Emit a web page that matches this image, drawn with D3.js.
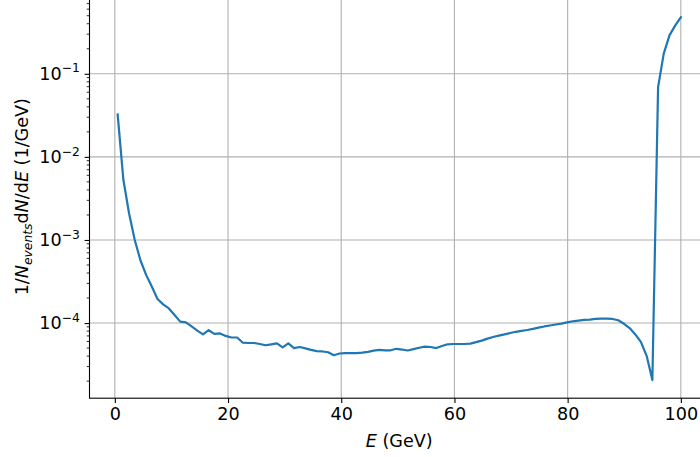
<!DOCTYPE html>
<html>
<head>
<meta charset="utf-8">
<script src="https://cdn.jsdelivr.net/npm/d3@7"></script>
<style>
  body { margin: 0; background: #fff; }
  text { font-family: "DejaVu Sans", sans-serif; }
</style>
</head>
<body>
<div id="chart"></div>
<script>
// bin centres (GeV)
const energy = [
  0.5, 1.51, 2.51, 3.52, 4.52, 5.53, 6.53, 7.54, 8.54, 9.55,
  10.55, 11.56, 12.56, 13.57, 14.57, 15.58, 16.58, 17.59, 18.59, 19.6,
  20.6, 21.61, 22.61, 23.62, 24.62, 25.63, 26.63, 27.64, 28.64, 29.65,
  30.65, 31.66, 32.66, 33.67, 34.67, 35.68, 36.68, 37.69, 38.69, 39.7,
  40.7, 41.71, 42.71, 43.72, 44.72, 45.73, 46.73, 47.74, 48.74, 49.75,
  50.75, 51.76, 52.76, 53.77, 54.77, 55.78, 56.78, 57.79, 58.79, 59.8,
  60.8, 61.81, 62.81, 63.82, 64.82, 65.83, 66.83, 67.84, 68.84, 69.85,
  70.85, 71.86, 72.86, 73.87, 74.87, 75.88, 76.88, 77.89, 78.89, 79.9,
  80.9, 81.91, 82.91, 83.92, 84.92, 85.93, 86.93, 87.94, 88.94, 89.95,
  90.95, 91.96, 92.96, 93.97, 94.97, 95.98, 96.98, 97.99, 98.99, 100.0
];

// 1/N dN/dE (1/GeV)
const density = [
  0.0324, 0.0053, 0.0021, 1.0e-3, 5.7e-4, 3.8e-4, 2.75e-4, 1.95e-4, 1.68e-4, 1.5e-4,
  1.25e-4, 1.04e-4, 1.02e-4, 9.1e-5, 8.1e-5, 7.3e-5, 8.2e-5, 7.4e-5, 7.5e-5, 7.0e-5,
  6.7e-5, 6.7e-5, 5.8e-5, 5.75e-5, 5.75e-5, 5.6e-5, 5.4e-5, 5.55e-5, 5.7e-5, 5.1e-5,
  5.7e-5, 5.0e-5, 5.15e-5, 4.95e-5, 4.75e-5, 4.6e-5, 4.55e-5, 4.45e-5, 4.1e-5, 4.3e-5,
  4.35e-5, 4.35e-5, 4.35e-5, 4.4e-5, 4.5e-5, 4.65e-5, 4.75e-5, 4.7e-5, 4.7e-5, 4.9e-5,
  4.8e-5, 4.67e-5, 4.85e-5, 5.05e-5, 5.2e-5, 5.15e-5, 5.0e-5, 5.3e-5, 5.55e-5, 5.6e-5,
  5.6e-5, 5.6e-5, 5.65e-5, 5.9e-5, 6.15e-5, 6.5e-5, 6.8e-5, 7.05e-5, 7.3e-5, 7.6e-5,
  7.85e-5, 8.05e-5, 8.25e-5, 8.5e-5, 8.8e-5, 9.1e-5, 9.35e-5, 9.6e-5, 9.85e-5, 1.02e-4,
  1.05e-4, 1.07e-4, 1.09e-4, 1.1e-4, 1.12e-4, 1.13e-4, 1.13e-4, 1.12e-4, 1.08e-4, 9.8e-5,
  8.7e-5, 7.3e-5, 5.9e-5, 4.0e-5, 2.06e-5, 0.069, 0.175, 0.29, 0.38, 0.478
];

const xTicks = [0, 20, 40, 60, 80, 100];
const yTicks = [1e-4, 1e-3, 1e-2, 1e-1];

const width = 700, height = 457;
const fontSize = 17.6;
const tickLen = 4.86, tickPad = 4.86, minorLen = 2.78;

// axes box (the figure is cropped on the top and right)
const box = { left: 89.5, right: 709, top: -0.8, bottom: 398.2 };

const data = energy.map((e, i) => ({ e: e, v: density[i] }));

// matplotlib-like 5% margins
const [eMin, eMax] = d3.extent(energy);
const ePad = (eMax - eMin) * 0.05;
const [lMin, lMax] = d3.extent(density).map(Math.log10);
const lPad = (lMax - lMin) * 0.05;

const x = d3.scaleLinear()
    .domain([eMin - ePad, eMax + ePad])
    .range([box.left, box.right]);

const y = d3.scaleLog()
    .domain([Math.pow(10, lMin - lPad), Math.pow(10, lMax + lPad)])
    .range([box.bottom, box.top]);

const svg = d3.select("#chart").append("svg")
    .attr("width", width)
    .attr("height", height);

// Grid
svg.append("g").selectAll("line")
    .data(xTicks)
    .enter().append("line")
    .attr("x1", d => x(d)).attr("x2", d => x(d))
    .attr("y1", box.top).attr("y2", box.bottom)
    .attr("stroke", "#b0b0b0").attr("stroke-width", 1.1);

svg.append("g").selectAll("line")
    .data(yTicks)
    .enter().append("line")
    .attr("x1", box.left).attr("x2", box.right)
    .attr("y1", d => y(d)).attr("y2", d => y(d))
    .attr("stroke", "#b0b0b0").attr("stroke-width", 1.1);

// Curve
const line = d3.line()
    .x(d => x(d.e))
    .y(d => y(d.v));

svg.append("path")
    .datum(data)
    .attr("fill", "none")
    .attr("stroke", "#1f77b4")
    .attr("stroke-width", 2.2)
    .attr("stroke-linejoin", "round")
    .attr("stroke-linecap", "square")
    .attr("d", line);

// Frame
svg.append("rect")
    .attr("x", box.left).attr("y", box.top)
    .attr("width", box.right - box.left)
    .attr("height", box.bottom - box.top)
    .attr("fill", "none")
    .attr("stroke", "#000")
    .attr("stroke-width", 1.1);

// X axis
const xAxis = svg.append("g")
    .attr("transform", `translate(0,${box.bottom})`)
    .call(d3.axisBottom(x).tickValues(xTicks).tickSize(tickLen).tickPadding(tickPad).tickFormat(d3.format("d")));
xAxis.select(".domain").remove();
xAxis.selectAll(".tick line").attr("stroke", "#000").attr("stroke-width", 1.1);
xAxis.selectAll(".tick text")
    .attr("fill", "#000")
    .attr("font-size", fontSize)
    .attr("font-family", "DejaVu Sans");

// Y axis
const yAxis = svg.append("g")
    .attr("transform", `translate(${box.left},0)`)
    .call(d3.axisLeft(y).tickValues(yTicks).tickSize(tickLen).tickPadding(tickPad));
yAxis.select(".domain").remove();
yAxis.selectAll(".tick line").attr("stroke", "#000").attr("stroke-width", 1.1);
yAxis.selectAll(".tick text")
    .attr("fill", "#000")
    .attr("font-size", fontSize)
    .attr("font-family", "DejaVu Sans")
    .each(function(d) {
        const t = d3.select(this);
        t.text(null);
        t.append("tspan").text("10");
        t.append("tspan")
            .attr("font-size", fontSize * 0.7)
            .attr("dy", -7.5)
            .text("\u2212" + Math.round(-Math.log10(d)));
    });

// Y minor ticks
const minor = [];
for (let k = -5; k <= 0; k++) {
    for (let m = 2; m <= 9; m++) {
        const v = m * Math.pow(10, k);
        if (v >= y.domain()[0] && v <= y.domain()[1]) minor.push(v);
    }
}
svg.append("g").selectAll("line")
    .data(minor)
    .enter().append("line")
    .attr("x1", box.left).attr("x2", box.left - minorLen)
    .attr("y1", d => y(d)).attr("y2", d => y(d))
    .attr("stroke", "#000").attr("stroke-width", 0.83);

// X label
const xl = svg.append("text")
    .attr("x", (box.left + box.right) / 2)
    .attr("y", 447)
    .attr("text-anchor", "middle")
    .attr("font-size", fontSize)
    .attr("fill", "#000");
xl.append("tspan").attr("font-style", "italic").text("E");
xl.append("tspan").text(" (GeV)");

// Y label
const yl = svg.append("text")
    .attr("transform", `translate(28,${(box.top + box.bottom) / 2 - 2}) rotate(-90)`)
    .attr("text-anchor", "middle")
    .attr("font-size", fontSize)
    .attr("fill", "#000");
yl.append("tspan").text("1/");
yl.append("tspan").attr("font-style", "italic").text("N");
yl.append("tspan").attr("font-style", "italic").attr("font-size", fontSize * 0.7).attr("dy", 3.7).text("events");
yl.append("tspan").attr("dy", -3.7).text("d");
yl.append("tspan").attr("font-style", "italic").text("N");
yl.append("tspan").text("/d");
yl.append("tspan").attr("font-style", "italic").text("E");
yl.append("tspan").text(" (1/GeV)");
</script>
</body>
</html>
